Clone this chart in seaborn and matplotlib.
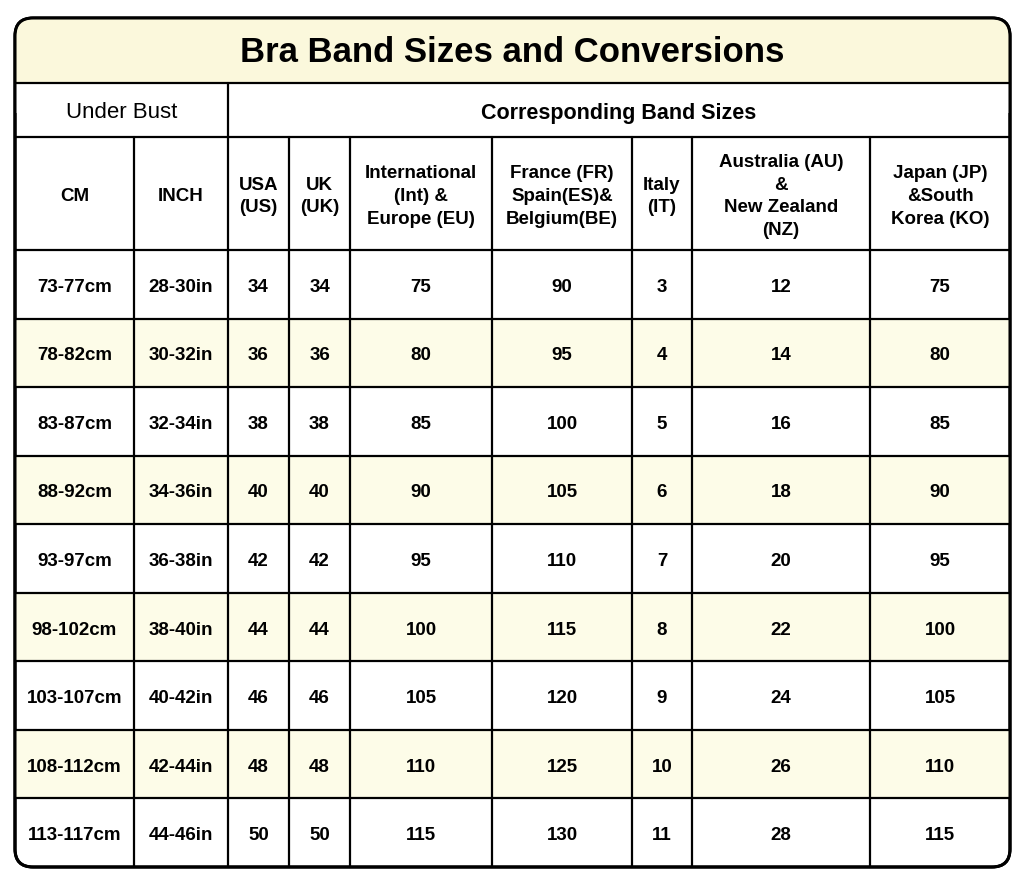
import matplotlib
matplotlib.use("Agg")
import matplotlib.pyplot as plt
from matplotlib.patches import Rectangle, FancyBboxPatch
import seaborn as sns

sns.set_theme(style="white", rc={"font.family": "Liberation Sans", "text.color": "black"})

title = "Bra Band Sizes and Conversions"
col_headers = ["CM", "INCH", "USA\n(US)", "UK\n(UK)", "International\n(Int) &\nEurope (EU)",
               "France (FR)\nSpain(ES)&\nBelgium(BE)", "Italy\n(IT)",
               "Australia (AU)\n&\nNew Zealand\n(NZ)", "Japan (JP)\n&South\nKorea (KO)"]
cm = ["73-77cm", "78-82cm", "83-87cm", "88-92cm", "93-97cm", "98-102cm", "103-107cm", "108-112cm", "113-117cm"]
inch = ["28-30in", "30-32in", "32-34in", "34-36in", "36-38in", "38-40in", "40-42in", "42-44in", "44-46in"]
us = [34, 36, 38, 40, 42, 44, 46, 48, 50]
uk = [34, 36, 38, 40, 42, 44, 46, 48, 50]
intl = [75, 80, 85, 90, 95, 100, 105, 110, 115]
fr = [90, 95, 100, 105, 110, 115, 120, 125, 130]
it = [3, 4, 5, 6, 7, 8, 9, 10, 11]
au = [12, 14, 16, 18, 20, 22, 24, 26, 28]
jp = [75, 80, 85, 90, 95, 100, 105, 110, 115]

xb = [15, 134, 228, 289, 350, 492, 632, 692, 870, 1010]
y_title, y_sub, y_head, y_data, y_end = 18, 83, 137, 250, 867
rh = (y_end - y_data) / 9
dy = 3

fig = plt.figure(figsize=(10.24, 8.81), dpi=100)
ax = fig.add_axes([0, 0, 1, 1])
ax.set_xlim(0, 1024); ax.set_ylim(881, 0); ax.axis("off")
lw = 1.6
yellow_t = "#FBF8DC"; yellow_r = "#FDFCE8"
K = "black"

ax.add_patch(FancyBboxPatch((xb[0], y_title), xb[-1]-xb[0], y_end-y_title,
             boxstyle="round,pad=0,rounding_size=18", fc="white", ec="black", lw=2.2, zorder=1))
ax.add_patch(FancyBboxPatch((xb[0]+1, y_title+1), xb[-1]-xb[0]-2, (y_sub-y_title)+20,
             boxstyle="round,pad=0,rounding_size=17", fc=yellow_t, ec="none", zorder=1.5))
ax.add_patch(Rectangle((xb[0]+1, y_sub), xb[-1]-xb[0]-2, 30, fc="white", ec="none", zorder=1.6))
ax.text((xb[0]+xb[-1])/2, (y_title+y_sub)/2+2, title, ha="center", va="center", fontsize=25,
        fontweight="bold", color=K, zorder=5)

cols = [cm, inch, us, uk, intl, fr, it, au, jp]
for r in range(9):
    y0 = y_data + r*rh
    if r % 2 == 1:
        ax.add_patch(Rectangle((xb[0]+1, y0), xb[-1]-xb[0]-2, rh, fc=yellow_r, ec="none", zorder=1.7))
    for c in range(9):
        ax.text((xb[c]+xb[c+1])/2, y0+rh/2+dy, str(cols[c][r]), ha="center", va="center",
                fontsize=13.5, fontweight="bold", color=K, zorder=5)

for c in range(9):
    ax.text((xb[c]+xb[c+1])/2, (y_head+y_data)/2+dy, col_headers[c], ha="center", va="center",
            fontsize=13.5, fontweight="bold", linespacing=1.45, color=K, zorder=5)
ax.text((xb[0]+xb[2])/2, (y_sub+y_head)/2+dy, "Under Bust", ha="center", va="center", fontsize=16,
        color=K, zorder=5)
ax.text((xb[2]+xb[-1])/2, (y_sub+y_head)/2+dy, "Corresponding Band Sizes", ha="center", va="center",
        fontsize=15.5, fontweight="bold", color=K, zorder=5)

for y in [y_sub, y_head] + [y_data + r*rh for r in range(9)]:
    ax.plot([xb[0], xb[-1]], [y, y], color="black", lw=lw, zorder=4)
ax.plot([xb[2], xb[2]], [y_sub, y_end], color="black", lw=lw, zorder=4)
for x in xb[1:-1]:
    if x != xb[2]:
        ax.plot([x, x], [y_head, y_end], color="black", lw=lw, zorder=4)
ax.add_patch(FancyBboxPatch((xb[0], y_title), xb[-1]-xb[0], y_end-y_title,
             boxstyle="round,pad=0,rounding_size=18", fc="none", ec="black", lw=2.2, zorder=6))

fig.savefig("out.png", dpi=100, facecolor="white")
